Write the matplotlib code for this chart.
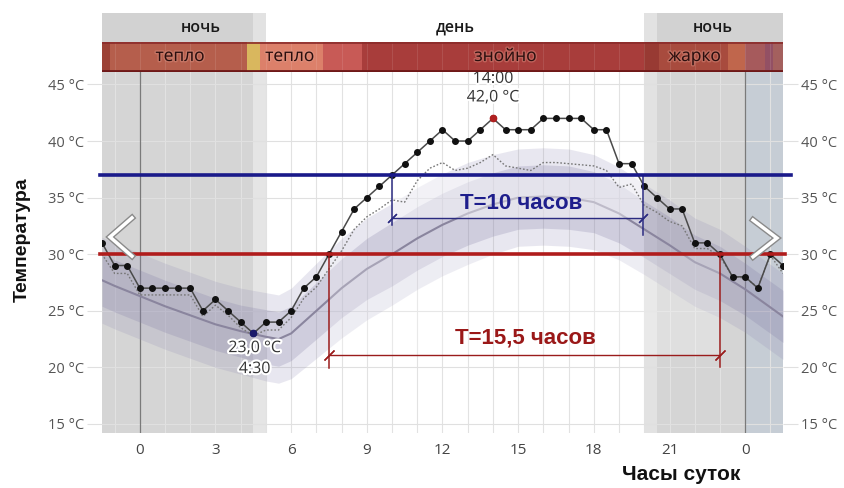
import matplotlib.pyplot as plt
import matplotlib.patheffects as pe
from matplotlib.patches import Rectangle
import numpy as np

plt.rcParams["font.family"] = ["Open Sans", "DejaVu Sans"]

# half-hour observations, -1.5 h (previous evening) .. 25.5 h (next night)
hours = np.arange(-1.5, 25.51, 0.5)
temp = [31, 29, 29, 27, 27, 27, 27, 27, 25, 26, 25, 24, 23, 24, 24, 25,
        27, 28, 30, 32, 34, 35, 36, 37, 38, 39, 40, 41, 40, 40, 41, 42,
        41, 41, 41, 42, 42, 42, 42, 41, 41, 38, 38, 36, 35, 34, 34, 31,
        31, 30, 28, 28, 27, 30, 29]
temp_dotted = [30.0, 28.3, 28.3, 26.4, 26.4, 26.4, 26.4, 26.4, 24.5, 25.5,
               24.6, 23.5, 22.8, 23.3, 23.3, 24.4, 26.1, 27.1, 28.7, 30.3,
               32.2, 33.3, 34.0, 34.8, 34.6, 36.5, 37.6, 38.1, 37.4, 37.6,
               38.1, 38.8, 37.8, 37.6, 37.4, 38.1, 38.1, 38.0, 37.9, 37.8,
               37.4, 35.9, 36.2, 34.3, 33.7, 32.9, 32.5, 30.5, 30.5, 29.8,
               28.0, 27.9, 27.1, 29.9, 28.3]

# climate norm: mean curve and spread
norm_hours = [-1.5, -1, 0, 1, 2, 3, 4, 5, 5.5, 6, 7, 8, 9, 10, 11, 12, 13,
              14, 15, 16, 17, 18, 19, 20, 21, 22, 23, 24, 25, 25.5]
norm_mean = [27.7, 27.2, 26.3, 25.4, 24.6, 23.8, 23.2, 22.7, 22.5, 23.0,
             25.0, 27.0, 28.7, 30.0, 31.4, 32.6, 33.6, 34.4, 35.0, 35.1,
             35.0, 34.6, 33.6, 32.2, 30.8, 29.3, 28.3, 26.9, 25.3, 24.5]
inner_half = [2.3, 2.3, 2.3, 2.3, 2.3, 2.3, 2.3, 2.4, 2.4, 2.4, 2.5, 2.6,
              2.7, 2.8, 2.8, 2.8, 2.8, 2.8, 2.8, 2.8, 2.8, 2.7, 2.6, 2.5,
              2.5, 2.4, 2.4, 2.3, 2.3, 2.3]
outer_half = [3.8, 3.8, 3.8, 3.8, 3.8, 3.8, 3.8, 3.9, 3.9, 4.0, 4.2, 4.4,
              4.5, 4.5, 4.5, 4.5, 4.5, 4.4, 4.3, 4.3, 4.3, 4.2, 4.1, 4.0,
              4.0, 3.9, 3.9, 3.8, 3.8, 3.8]

t_max_hour, t_max = 14.0, 42.0
t_min_hour, t_min = 4.5, 23.0

# threshold durations
hot_level, hot_from, hot_to = 37, 10.0, 19.93
warm_level, warm_from, warm_to = 30, 7.5, 23.0

# night / twilight shading
shade_start = [-1.5, 4.5, 20.0, 20.5, 24.0]
shade_end = [4.5, 5.0, 20.5, 24.0, 25.5]
shade_color = ["#d5d5d5", "#e5e5e5", "#e2e2e2", "#d5d5d5", "#c6cdd5"]
header_color = ["#d2d2d2", "#e2e2e2", "#e2e2e2", "#d2d2d2", "#d2d2d2"]
header_labels = ["ночь", "день", "ночь"]
header_pos = [2.4, 12.5, 22.7]

# heat classes strip
band_start = [-1.5, -1.2, 4.25, 4.75, 7.25, 8.8, 20.0, 20.6, 23.3, 24.0, 24.8, 25.1]
band_end = [-1.2, 4.25, 4.75, 7.25, 8.8, 20.0, 20.6, 23.3, 24.0, 24.8, 25.1, 25.5]
band_color = ["#9c4236", "#b55e4c", "#d9b75e", "#dc806a", "#c85a56", "#a83d3b",
              "#983a33", "#a84b3e", "#c0664c", "#a65a5c", "#935064", "#a4605e"]
band_labels = ["тепло", "тепло", "знойно", "жарко"]
band_pos = [1.6, 5.95, 14.5, 22.0]

xticks = [0, 3, 6, 9, 12, 15, 18, 21, 24]
xtick_labels = ["0", "3", "6", "9", "12", "15", "18", "21", "0"]
yticks = [15, 20, 25, 30, 35, 40, 45]

W, H = 845, 488
fig = plt.figure(figsize=(W / 100, H / 100), dpi=100)
L, R = 102, 783
ax = fig.add_axes([L / W, 55 / H, (R - L) / W, 361 / H])
bax = fig.add_axes([L / W, (H - 72) / H, (R - L) / W, 30 / H])
hax = fig.add_axes([L / W, (H - 42) / H, (R - L) / W, 29 / H])

xlim = (-1.5, 25.5)
for a in (ax, bax, hax):
    a.set_xlim(*xlim)

# header
hax.set_ylim(0, 1)
hax.axis("off")
for s, e, c in zip(shade_start, shade_end, header_color):
    hax.axvspan(s, e, color=c, lw=0)
for lab, x in zip(header_labels, header_pos):
    hax.text(x, 0.5, lab, ha="center", va="center", fontsize=11.5,
             color="#1a1a1a", fontweight="semibold")

# heat strip
bax.set_ylim(0, 1)
bax.axis("off")
for s, e, c in zip(band_start, band_end, band_color):
    bax.axvspan(s, e, color=c, lw=0)
for h in range(-1, 26):
    bax.axvline(h, color="white", lw=0.6, alpha=0.12)
bax.axhline(0.03, color="#6e1818", lw=2)
bax.axhline(0.98, color="#8a2a2a", lw=1.2)
for lab, x in zip(band_labels, band_pos):
    bax.text(x, 0.5, lab, ha="center", va="center", fontsize=12.5,
             color="#2a0e0e",
             path_effects=[pe.withStroke(linewidth=2, foreground="#e09a8a", alpha=0.4)])

# main panel
ax.set_ylim(14.2, 46.1)
for s, e, c in zip(shade_start, shade_end, shade_color):
    ax.axvspan(s, e, color=c, lw=0, zorder=0.1)

ax.set_axisbelow(True)
ax.set_xticks(xticks)
ax.set_xticklabels(xtick_labels)
ax.set_xticks(range(-1, 26), minor=True)
ax.set_yticks(yticks)
ax.set_yticklabels([f"{v} °C" for v in yticks])
ax.grid(which="minor", axis="x", color="#e2e2e2", lw=0.8)
ax.grid(which="major", axis="x", color="#e2e2e2", lw=0.8)
ax.grid(which="major", axis="y", color="#e0e0e0", lw=0.8)
ax.axvline(0, color="#7a7a7a", lw=0.9, zorder=0.6)
ax.axvline(24, color="#7a7a7a", lw=0.9, zorder=0.6)
for sp in ax.spines.values():
    sp.set_visible(False)
ax.tick_params(axis="y", which="major", left=True, right=True, labelright=True,
               length=11, color="#e0e0e0", labelsize=10.5, labelcolor="#555555", pad=2)
ax.tick_params(axis="x", which="both", length=0, labelsize=11,
               labelcolor="#444444", pad=7)

# norm bands
lo_o = np.array(norm_mean) - np.array(outer_half)
hi_o = np.array(norm_mean) + np.array(outer_half)
lo_i = np.array(norm_mean) - np.array(inner_half)
hi_i = np.array(norm_mean) + np.array(inner_half)
ax.fill_between(norm_hours, lo_o, hi_o, color="#908bb4", alpha=0.2, lw=0, zorder=1)
ax.fill_between(norm_hours, lo_i, hi_i, color="#8580a8", alpha=0.25, lw=0, zorder=1.1)
ax.plot(norm_hours, norm_mean, color="#8a859e", lw=1.5, zorder=1.5)

# light boxes under the duration labels
ax.add_patch(Rectangle((hot_from, 33.2), hot_to - hot_from, hot_level - 33.2,
                       facecolor="white", alpha=0.45, lw=0, zorder=1.6))
ax.add_patch(Rectangle((warm_from, 21.1), warm_to - warm_from, warm_level - 21.1,
                       facecolor="white", alpha=0.25, lw=0, zorder=1.6))

# observations
ax.plot(hours, temp_dotted, color="#777777", lw=1, ls=(0, (1.2, 1.4)), zorder=2)
ax.plot(hours, temp, color="#4a4a4a", lw=1.1, marker="o", ms=4,
        mfc="#111111", mec="#111111", zorder=3)
ax.plot([t_max_hour], [t_max], "o", ms=4.5, color="#b02020", zorder=3.5)
ax.plot([t_min_hour], [t_min], "o", ms=4.5, color="#1a1a6a", zorder=3.5)

halo = [pe.withStroke(linewidth=3, foreground="white")]
ax.text(t_max_hour, 45.5, "14:00", ha="center", va="center", fontsize=11.5,
        color="#333333", path_effects=halo, zorder=5)
ax.text(t_max_hour, 43.85, "42,0 °C", ha="center", va="center", fontsize=11.5,
        color="#333333", path_effects=halo, zorder=5)
ax.text(t_min_hour + 0.05, 21.7, "23,0 °C", ha="center", va="center", fontsize=11.5,
        color="#333333", path_effects=halo, zorder=5)
ax.text(t_min_hour + 0.05, 19.85, "4:30", ha="center", va="center", fontsize=11.5,
        color="#333333", path_effects=halo, zorder=5)

# threshold lines
ax.axhline(hot_level, xmin=-0.003, xmax=1.012, color="#1a1a8a", lw=2.6,
           clip_on=False, zorder=4)
ax.axhline(warm_level, xmin=-0.003, xmax=1.003, color="#b01c1c", lw=2.6,
           clip_on=False, zorder=4)

# duration dimension lines
blue, red = "#2a2a80", "#9a1c1c"
ax.plot([hot_from, hot_from], [hot_level, 32.6], color=blue, lw=1.1, zorder=3.8)
ax.plot([hot_to, hot_to], [hot_level, 31.7], color=blue, lw=1.1, zorder=3.8)
ax.plot([hot_from, hot_to], [33.2, 33.2], color=blue, lw=1, zorder=3.8,
        marker=(2, 2, -45), ms=9, mew=0.9)
ax.plot([warm_from, warm_from], [warm_level, 19.9], color=red, lw=1.1, zorder=3.8)
ax.plot([warm_to, warm_to], [warm_level, 20.0], color=red, lw=1.1, zorder=3.8)
ax.plot([warm_from, warm_to], [21.1, 21.1], color=red, lw=1, zorder=3.8,
        marker=(2, 2, -45), ms=10, mew=0.9)

ax.text(15.1, 34.5, "T=10 часов", ha="center", va="center", fontsize=16,
        fontweight="bold", family="Liberation Sans", color="#1e1e8c", zorder=5)
ax.text(15.3, 22.6, "T=15,5 часов", ha="center", va="center", fontsize=16,
        fontweight="bold", family="Liberation Sans", color="#9a1818", zorder=5)

# navigation chevrons
chev = [pe.Stroke(linewidth=4.5, foreground="#8a8a8a"), pe.Normal()]
ax.plot([0.044, 0.0117, 0.044], [0.596, 0.543, 0.490], transform=ax.transAxes,
        color="white", lw=2.5, solid_joinstyle="miter", path_effects=chev, zorder=6)
ax.plot([0.956, 0.991, 0.956], [0.590, 0.540, 0.488], transform=ax.transAxes,
        color="white", lw=2.5, solid_joinstyle="miter", path_effects=chev, zorder=6)

fig.text(22 / W, 1 - 240 / H, "Температура", rotation=90, ha="center", va="center",
         fontsize=14, fontweight="bold", family="Liberation Sans", color="#111111")
fig.text(681 / W, 1 - 474 / H, "Часы суток", ha="center", va="center",
         fontsize=15, fontweight="bold", family="Liberation Sans", color="#111111")

fig.savefig("out.png", dpi=100)
